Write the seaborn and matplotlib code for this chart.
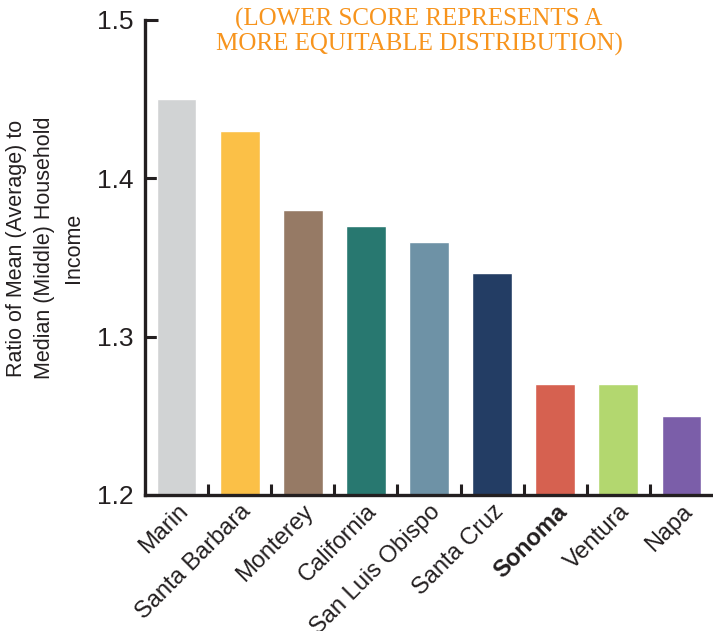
import matplotlib
matplotlib.use("Agg")
import matplotlib.pyplot as plt
import seaborn as sns
import pandas as pd
from matplotlib.ticker import FixedLocator

counties = ["Marin", "Santa Barbara", "Monterey", "California", "San Luis Obispo",
            "Santa Cruz", "Sonoma", "Ventura", "Napa"]
ratios = [1.45, 1.43, 1.38, 1.37, 1.36, 1.34, 1.27, 1.27, 1.25]
colors = ["#D1D3D4", "#FBC047", "#967A65", "#287870", "#6E92A6",
          "#233D64", "#D66150", "#B3D76F", "#7B5EA9"]
y_ticks = [1.2, 1.3, 1.4, 1.5]
y_label = "Ratio of Mean (Average) to\nMedian (Middle) Household\nIncome"
note = "(LOWER SCORE REPRESENTS A\nMORE EQUITABLE DISTRIBUTION)"

sns.set_style("white")
plt.rcParams["font.family"] = ["Liberation Sans", "DejaVu Sans"]
ink = "#231F20"

df = pd.DataFrame({"county": counties, "ratio": ratios})

fig = plt.figure(figsize=(7.13, 6.31), dpi=100)
ax = fig.add_axes([145 / 713, 1 - 495 / 631, 1 - 145 / 713, (495 - 20) / 631])

sns.barplot(data=df, x="county", y="ratio", hue="county", palette=colors,
            legend=False, width=0.63, saturation=1, ax=ax)

ax.set_xlim(-0.5, 8.5)
ax.set_ylim(1.2, 1.5)
ax.set_yticks(y_ticks)
ax.set_yticklabels([f"{v:.1f}" for v in y_ticks], fontsize=19, color=ink)
ax.tick_params(axis="y", left=True, direction="in", length=9.5, width=2.2,
               color=ink, pad=8)

ax.set_xticks(range(len(counties)))
ax.set_xticklabels(counties, rotation=45, ha="right", rotation_mode="anchor",
                   fontsize=17, color=ink)
ax.tick_params(axis="x", which="major", bottom=True, length=0, pad=4)
ax.xaxis.set_minor_locator(FixedLocator([i + 0.5 for i in range(len(counties) - 1)]))
ax.tick_params(axis="x", which="minor", bottom=True, direction="in", length=8,
               width=2.2, color=ink)
for lab in ax.get_xticklabels():
    if lab.get_text() == "Sonoma":
        lab.set_fontweight("bold")

ax.set_xlabel("")
ax.set_ylabel(y_label, fontsize=15.5, color=ink, linespacing=1.45)
ax.yaxis.set_label_coords(-0.108, 0.52)

for side in ["top", "right"]:
    ax.spines[side].set_visible(False)
for side in ["left", "bottom"]:
    ax.spines[side].set_color(ink)
    ax.spines[side].set_linewidth(2.4)

fig.text(419 / 713, 1 - 32 / 631, note, ha="center", va="center", fontsize=18,
         color="#F7941D", family=["Liberation Serif", "DejaVu Serif"],
         linespacing=1.15)

fig.savefig("out.png", dpi=100)
